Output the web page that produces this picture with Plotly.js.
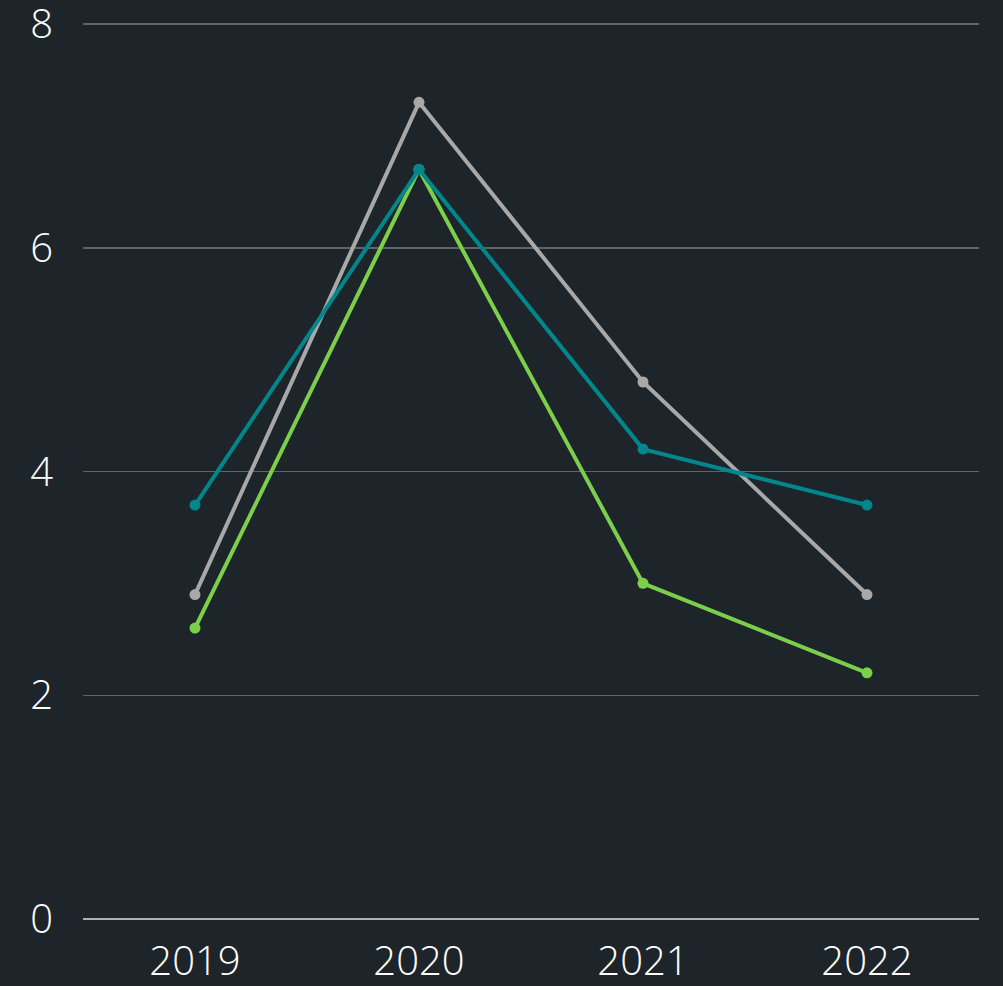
<!DOCTYPE html>
<html>
<head>
<meta charset="utf-8">
<script src="https://cdn.plot.ly/plotly-3.0.1.min.js"></script>
<style>html,body{margin:0;padding:0;background:#1e252a;}</style>
</head>
<body>
<div id="chart" style="width:1003px;height:986px;"></div>
<script>
const years = ["2019", "2020", "2021", "2022"];
const seriesGray = [2.9, 7.3, 4.8, 2.9];
const seriesGreen = [2.6, 6.7, 3.0, 2.2];
const seriesTeal = [3.7, 6.7, 4.2, 3.7];
const yTicks = [0, 2, 4, 6, 8];

function tr(y, color, name) {
  return {
    x: years, y: y, name: name, type: 'scatter', mode: 'lines+markers',
    line: {color: color, width: 4},
    marker: {color: color, size: 11},
    hoverinfo: 'x+y'
  };
}

const data = [
  tr(seriesGray, '#a8a8a8', 'Gray'),
  tr(seriesGreen, '#7ccf4a', 'Green'),
  tr(seriesTeal, '#00868b', 'Teal')
];

const layout = {
  width: 1003, height: 986,
  paper_bgcolor: '#1e252a', plot_bgcolor: '#1e252a',
  margin: {l: 83, r: 24, t: 18, b: 67},
  showlegend: false,
  font: {family: 'Open Sans', color: '#ffffff', size: 40, weight: 300},
  xaxis: {
    type: 'category', range: [-0.5, 3.5],
    showgrid: false, zeroline: false, showline: false,
    ticks: '', ticklabelstandoff: 15, ticklabeloverflow: 'allow',
    tickfont: {family: 'Open Sans', size: 40, color: '#ffffff', weight: 300}
  },
  yaxis: {
    range: [0, 8.0536], tickvals: yTicks, ticktext: yTicks.map(String),
    showgrid: true, gridcolor: '#5e6565', gridwidth: 1.5,
    zeroline: true, zerolinecolor: '#b0b0b0', zerolinewidth: 2,
    showline: false, ticks: '', ticklabelstandoff: 29, ticklabeloverflow: 'allow',
    tickfont: {family: 'Open Sans', size: 40, color: '#ffffff', weight: 300}
  }
};

Plotly.newPlot('chart', data, layout, {displayModeBar: false, staticPlot: true});
</script>
</body>
</html>
